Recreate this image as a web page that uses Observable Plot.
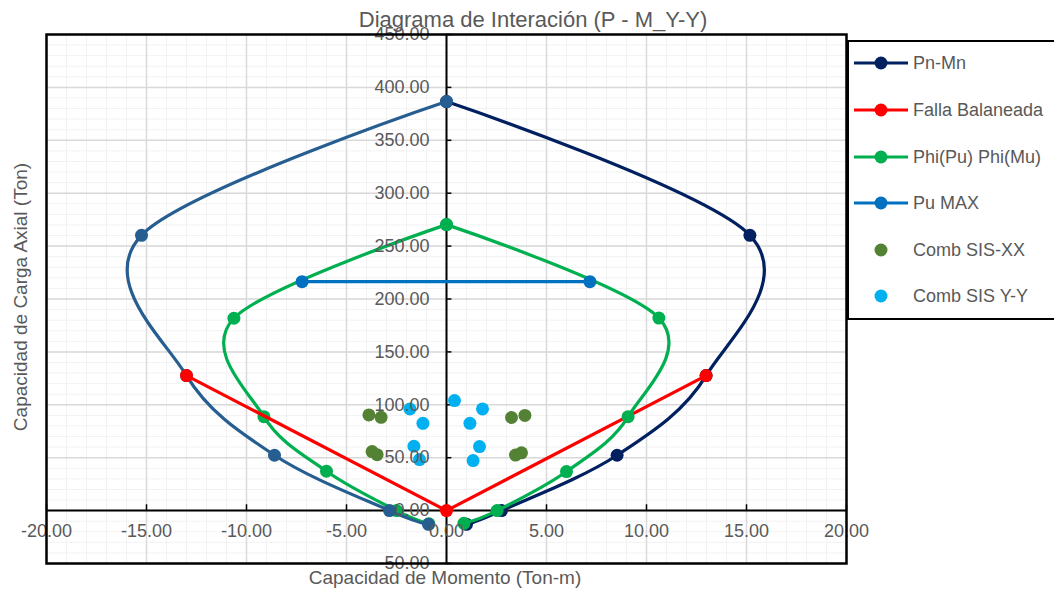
<!DOCTYPE html>
<html>
<head>
<meta charset="utf-8">
<script src="https://cdn.jsdelivr.net/npm/d3@7"></script>
<script src="https://cdn.jsdelivr.net/npm/@observablehq/plot@0.6"></script>
<style>
  html, body { margin: 0; padding: 0; background: #fff; overflow: hidden; }
  body { font-family: "Liberation Sans", Arial, sans-serif; color: #595959; }
  #wrap { position: relative; width: 1054px; height: 591px; overflow: hidden; }
  #chart { position: absolute; left: 0; top: 0; }
  .t { position: absolute; white-space: nowrap; color: #595959; }
  #title { left: 533px; top: 20px; transform: translate(-50%, -50%); font-size: 22px; }
  #xtitle { left: 445px; top: 578px; transform: translate(-50%, -50%); font-size: 19px; }
  #ytitle { left: 21px; top: 297px; transform: translate(-50%, -50%) rotate(-90deg); font-size: 19px; }
  #legend { position: absolute; left: 847px; top: 40px; width: 215px; height: 280px; border: 2px solid #000; box-sizing: border-box; background: #fff; }
  .li { position: absolute; left: 0; height: 20px; }
  .li svg { position: absolute; left: 5px; top: 0; }
  .li span { position: absolute; left: 64px; top: 50%; transform: translateY(-50%); font-size: 18px; white-space: nowrap; color: #595959; }
</style>
</head>
<body>
<div id="wrap">
  <div id="chart"></div>
  <div class="t" id="title">Diagrama de Interación (P - M_Y-Y)</div>
  <div class="t" id="xtitle">Capacidad de Momento (Ton-m)</div>
  <div class="t" id="ytitle">Capacidad de Carga Axial (Ton)</div>
  <div id="legend"></div>
</div>
<script>
// ---- Data ----
const pnMnRightM = [0, 15.17, 12.98, 8.53, 2.75, 1.0];
const pnMnRightP = [386.6, 260.2, 127.6, 52.3, 0, -13];
const pnMnLeftM = [0, -15.25, -13.0, -8.6, -2.85, -0.9];
const pnMnLeftP = [386.6, 260.2, 127.6, 52.3, 0, -13];
const fallaM = [-13.0, 0, 12.98];
const fallaP = [127.6, 0, 127.6];
const phiRightM = [0, 10.62, 9.08, 6.0, 2.53, 0.87];
const phiRightP = [270.3, 182.0, 88.8, 36.9, 0, -12];
const phiLeftM = [0, -10.63, -9.13, -6.0, -2.5, -0.88];
const phiLeftP = [270.3, 181.8, 88.8, 37.2, 0, -12.5];
const puMaxM = [-7.22, 7.17];
const puMaxP = [216.4, 216.4];
const sisXXM = [-3.88, -3.27, -3.72, -3.47, 3.25, 3.92, 3.45, 3.75];
const sisXXP = [90.4, 88.2, 55.8, 52.9, 88.0, 90.0, 52.5, 54.6];
const sisYYM = [-1.83, -1.18, -1.63, -1.35, 0.4, 1.8, 1.17, 1.65, 1.33];
const sisYYP = [96.1, 82.5, 60.8, 48.2, 104, 96.1, 82.5, 60.5, 47.3];
const xTicks = [-20, -15, -10, -5, 0, 5, 10, 15, 20];
const yTicks = [-50, 0, 50, 100, 150, 200, 250, 300, 350, 400, 450];
const legendNames = ["Pn-Mn", "Falla Balaneada", "Phi(Pu) Phi(Mu)", "Pu MAX", "Comb SIS-XX", "Comb SIS Y-Y"];

// ---- Styles ----
const C = {
  navy: "#002060", steel: "#265E91", red: "#FF0000", green: "#00B050",
  pu: "#0070C0", olive: "#548235", cyan: "#00B0F0"
};
const legendColors = [C.navy, C.red, C.green, C.pu, C.olive, C.cyan];
const legendLine = [true, true, true, true, false, false];

const zip = (M, P) => M.map((m, i) => ({M: m, P: P[i]}));
const pnR = zip(pnMnRightM, pnMnRightP);
const pnL = zip(pnMnLeftM, pnMnLeftP);
const falla = zip(fallaM, fallaP);
const phiR = zip(phiRightM, phiRightP);
const phiL = zip(phiLeftM, phiLeftP);
const puMax = zip(puMaxM, puMaxP);
const sisXX = zip(sisXXM, sisXXP);
const sisYY = zip(sisYYM, sisYYP);

const xMinor = d3.range(-20, 20.001, 1);
const yMinor = d3.range(-50, 450.001, 10);
const R = 6.5, SW = 3.2;
const series = (data, color, curve) => [
  Plot.line(data, {x: "M", y: "P", stroke: color, strokeWidth: SW, curve: curve}),
  Plot.dot(data, {x: "M", y: "P", r: R, fill: color, stroke: "none"})
];

const chart = Plot.plot({
  width: 1054,
  height: 591,
  marginLeft: 46,
  marginRight: 208,
  marginTop: 34,
  marginBottom: 28,
  x: {domain: [-20, 20], axis: null},
  y: {domain: [-50, 450], axis: null},
  style: {fontFamily: "Liberation Sans, Arial, sans-serif", background: "white"},
  marks: [
    Plot.ruleX(xMinor, {stroke: "#F2F2F2", strokeWidth: 1}),
    Plot.ruleY(yMinor, {stroke: "#F2F2F2", strokeWidth: 1}),
    Plot.ruleX(xTicks, {stroke: "#D9D9D9", strokeWidth: 1.5}),
    Plot.ruleY(yTicks, {stroke: "#D9D9D9", strokeWidth: 1.5}),
    Plot.ruleX([0], {stroke: "#000", strokeWidth: 2}),
    Plot.ruleY([0], {stroke: "#000", strokeWidth: 2}),
    Plot.ruleY(yTicks, {x1: 0, x2: 0.27, stroke: "#000", strokeWidth: 1.5}),
    Plot.ruleX(xTicks, {y1: 0, y2: 5.5, stroke: "#000", strokeWidth: 1.5}),
    ...series(pnR, C.navy, "cardinal"),
    ...series(phiL, C.green, "cardinal"),
    ...series(pnL, C.steel, "cardinal"),
    ...series(falla, C.red, "linear"),
    ...series(phiR, C.green, "cardinal"),
    ...series(puMax, C.pu, "linear"),
    Plot.dot(sisXX, {x: "M", y: "P", r: R, fill: C.olive}),
    Plot.dot(sisYY, {x: "M", y: "P", r: R, fill: C.cyan}),
    Plot.text(yTicks, {x: 0, y: d => d, text: d => d.toFixed(2), textAnchor: "end", dx: -17, fontSize: 18, fill: "#595959"}),
    Plot.text(xTicks, {x: d => d, y: 0, text: d => d.toFixed(2), dy: 21, fontSize: 18, fill: "#595959"}),
    Plot.frame({stroke: "#000", strokeWidth: 2.5})
  ]
});
document.getElementById("chart").appendChild(chart);

// ---- Legend ----
const legend = document.getElementById("legend");
const rowY = [63, 110, 157, 203, 250, 296];
legendNames.forEach((name, i) => {
  const row = document.createElement("div");
  row.className = "li";
  row.style.top = (rowY[i] - 40 - 2 - 10) + "px";
  row.style.width = "210px";
  const s = d3.create("svg").attr("width", 56).attr("height", 20);
  if (legendLine[i]) s.append("line").attr("x1", 0).attr("x2", 54).attr("y1", 10).attr("y2", 10)
    .attr("stroke", legendColors[i]).attr("stroke-width", SW);
  s.append("circle").attr("cx", 27).attr("cy", 10).attr("r", R).attr("fill", legendColors[i]);
  row.appendChild(s.node());
  const sp = document.createElement("span");
  sp.textContent = name;
  row.appendChild(sp);
  legend.appendChild(row);
});
</script>
</body>
</html>
